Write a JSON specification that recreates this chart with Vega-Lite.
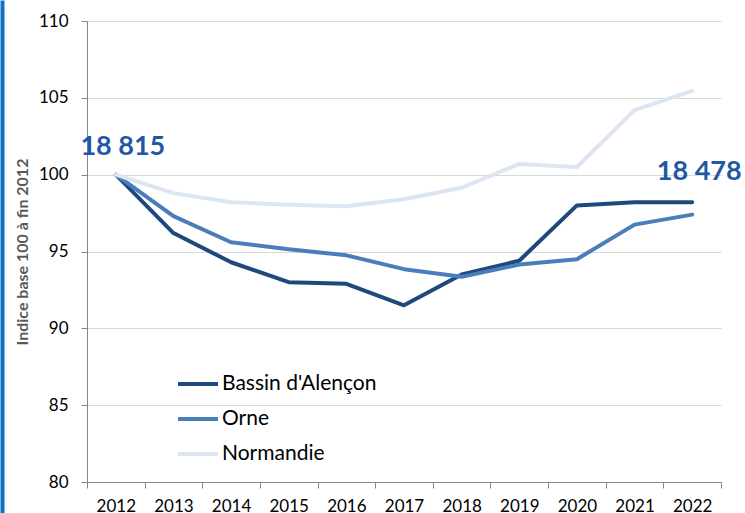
{
  "$schema": "https://vega.github.io/schema/vega-lite/v6.json",
  "width": 634,
  "height": 461,
  "autosize": {"type": "none"},
  "padding": {"left": 87, "top": 21, "right": 24, "bottom": 31},
  "background": "white",
  "config": {
    "view": {"stroke": null},
    "font": "Lato"
  },
  "datasets": {
    "series": [
      {"year": "2012", "serie": "Bassin d'Alençon", "value": 100},
      {"year": "2013", "serie": "Bassin d'Alençon", "value": 96.2},
      {"year": "2014", "serie": "Bassin d'Alençon", "value": 94.3},
      {"year": "2015", "serie": "Bassin d'Alençon", "value": 93.0},
      {"year": "2016", "serie": "Bassin d'Alençon", "value": 92.9},
      {"year": "2017", "serie": "Bassin d'Alençon", "value": 91.5},
      {"year": "2018", "serie": "Bassin d'Alençon", "value": 93.5},
      {"year": "2019", "serie": "Bassin d'Alençon", "value": 94.4},
      {"year": "2020", "serie": "Bassin d'Alençon", "value": 98.0},
      {"year": "2021", "serie": "Bassin d'Alençon", "value": 98.2},
      {"year": "2022", "serie": "Bassin d'Alençon", "value": 98.2},
      {"year": "2012", "serie": "Orne", "value": 100},
      {"year": "2013", "serie": "Orne", "value": 97.3},
      {"year": "2014", "serie": "Orne", "value": 95.6},
      {"year": "2015", "serie": "Orne", "value": 95.15},
      {"year": "2016", "serie": "Orne", "value": 94.75},
      {"year": "2017", "serie": "Orne", "value": 93.85},
      {"year": "2018", "serie": "Orne", "value": 93.35},
      {"year": "2019", "serie": "Orne", "value": 94.15},
      {"year": "2020", "serie": "Orne", "value": 94.5},
      {"year": "2021", "serie": "Orne", "value": 96.75},
      {"year": "2022", "serie": "Orne", "value": 97.4},
      {"year": "2012", "serie": "Normandie", "value": 100},
      {"year": "2013", "serie": "Normandie", "value": 98.8},
      {"year": "2014", "serie": "Normandie", "value": 98.2},
      {"year": "2015", "serie": "Normandie", "value": 98.05},
      {"year": "2016", "serie": "Normandie", "value": 97.95},
      {"year": "2017", "serie": "Normandie", "value": 98.4},
      {"year": "2018", "serie": "Normandie", "value": 99.15},
      {"year": "2019", "serie": "Normandie", "value": 100.7},
      {"year": "2020", "serie": "Normandie", "value": 100.5},
      {"year": "2021", "serie": "Normandie", "value": 104.2},
      {"year": "2022", "serie": "Normandie", "value": 105.45}
    ],
    "labels": [
      {"year": "2012", "value": 101.8, "label": "18 815"},
      {"year": "2022", "value": 100.2, "label": "18 478"}
    ]
  },
  "layer": [
    {
      "layer": [
        {
          "data": {"name": "series"},
          "mark": {"type": "line", "strokeWidth": 4, "strokeCap": "round", "strokeJoin": "round"},
          "encoding": {
            "x": {
              "field": "year", "type": "ordinal",
              "scale": {"type": "band", "paddingInner": 0, "paddingOuter": 0},
              "axis": {
                "title": null, "labelAngle": 0, "tickBand": "extent",
                "domainColor": "#868686", "tickColor": "#868686", "tickSize": 6,
                "labelFontSize": 17, "labelColor": "#000000", "labelPadding": 10,
                "labelFont": "Lato", "grid": false
              }
            },
            "y": {
              "field": "value", "type": "quantitative",
              "scale": {"domain": [80, 110], "nice": false, "zero": false},
              "axis": {
                "values": [80, 85, 90, 95, 100, 105, 110],
                "title": "Indice base 100 à fin 2012",
                "titleFontSize": 16, "titleFontWeight": "bold", "titleColor": "#595959",
                "titleFont": "Lato", "titlePadding": 8,
                "labelFontSize": 17, "labelColor": "#000000", "labelPadding": 13,
                "labelFont": "Lato",
                "domainColor": "#868686", "tickColor": "#868686", "tickSize": 6,
                "gridColor": "#D9D9D9", "gridWidth": 1
              }
            },
            "color": {
              "field": "serie", "type": "nominal",
              "scale": {
                "domain": ["Bassin d'Alençon", "Orne", "Normandie"],
                "range": ["#1F497D", "#4A7EBB", "#DCE6F2"]
              },
              "legend": {
                "title": null, "orient": "none", "legendX": 89, "legendY": 341,
                "symbolType": "stroke", "symbolSize": 1600, "symbolStrokeWidth": 4,
                "labelFontSize": 21, "labelColor": "#000000", "labelFont": "Lato",
                "labelOffset": 2, "rowPadding": 3, "padding": 0
              }
            }
          }
        },
        {
          "data": {"name": "labels"},
          "mark": {"type": "text", "fontSize": 27, "fontWeight": "bold", "color": "#1E58A5", "font": "Lato", "align": "center", "baseline": "middle", "dx": 7},
          "encoding": {
            "x": {"field": "year", "type": "ordinal"},
            "y": {"field": "value", "type": "quantitative"},
            "text": {"field": "label"}
          }
        }
      ]
    },
    {
      "data": {"name": "series"},
      "mark": {"type": "line", "opacity": 0},
      "encoding": {
        "x": {"field": "year", "type": "ordinal"},
        "y": {
          "field": "value", "type": "quantitative",
          "scale": {"domain": [80, 110], "nice": false, "zero": false, "range": [492, -21]},
          "axis": {
            "orient": "left", "offset": 85, "labels": false, "ticks": false,
            "grid": false, "title": null, "domainColor": "#1070C4", "domainWidth": 4
          }
        },
        "detail": {"field": "serie"}
      }
    }
  ],
  "resolve": {"scale": {"y": "independent"}, "axis": {"y": "independent"}}
}
